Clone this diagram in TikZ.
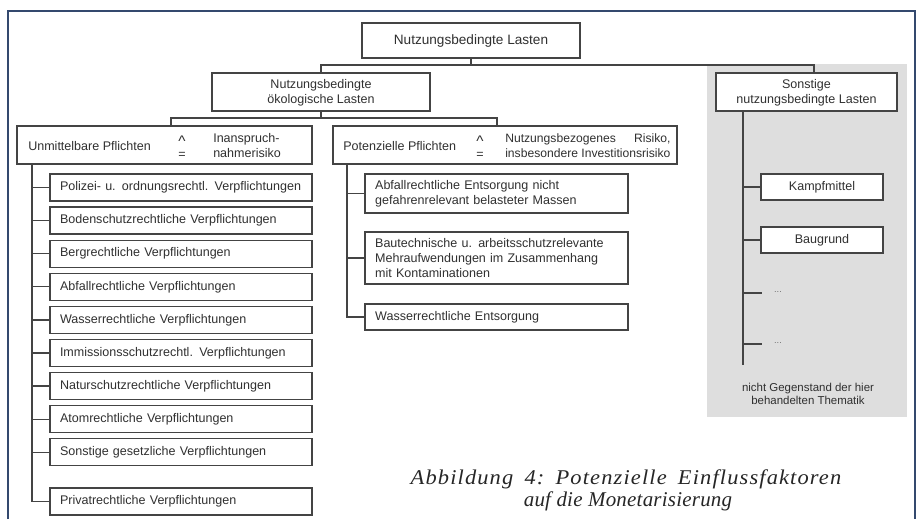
\documentclass[tikz,border=0pt]{standalone}
\usepackage{fontspec}
\setmainfont{Liberation Sans}
\newfontfamily\capfontA[LetterSpace=5]{Liberation Serif}
\newfontfamily\capfontB[LetterSpace=1]{Liberation Serif}
\definecolor{framec}{HTML}{34496E}
\definecolor{linec}{HTML}{444444}
\definecolor{textc}{HTML}{303030}
\definecolor{greyc}{HTML}{DEDEDE}
\newlength\potw
\settowidth\potw{\fontsize{9.1}{11.2}\selectfont insbesondere Investitionsrisiko}
\tikzset{
  bx/.style={draw=linec, line width=0.95pt, fill=white, text=textc,
    font=\fontsize{9.4}{11.2}\selectfont, inner sep=0pt},
  wh/.style 2 args={minimum width=#1*0.75pt, minimum height=#2*0.75pt},
  ln/.style={draw=linec, line width=0.95pt},
  tx/.style={text=textc, font=\fontsize{9.4}{11.2}\selectfont, inner sep=0pt},
  eq/.style={text=textc, font=\fontsize{9.4}{9}\selectfont, inner sep=0pt, align=center},
  captx/.style={text=black!85, inner sep=0pt, anchor=base},
}
\begin{document}
\begin{tikzpicture}[x=0.75pt,y=-0.75pt]
\useasboundingbox (0,0) rectangle (921,519);
% frame
\draw[framec, line width=1.1pt] (8,519) -- (8,11) -- (915,11) -- (915,519);
% grey region
\fill[greyc] (707,64) rectangle (907,417);

% top level
\node[bx, wh={218}{35}, font=\fontsize{10.2}{12}\selectfont] (top) at (471,40.5) {Nutzungsbedingte Lasten};
\node[bx, wh={218}{38}, align=center] (oeko) at (321,92) {\strut Nutzungsbedingte\\ökologische Lasten};
\node[bx, wh={181}{38}, align=center] (sonst) at (806.5,92) {\strut Sonstige\\nutzungsbedingte Lasten};

% second level
\node[bx, wh={295}{38}] (unm) at (164.5,145) {};
\node[tx, anchor=west] (unmA) at (28,146) {Unmittelbare Pflichten};
\node[eq] (unmB) at (182,147) {{\fontsize{11.5}{9}\selectfont\textasciicircum}\\=};
\node[tx, anchor=west, align=left] (unmC) at (213,145.5) {Inanspruch-\\nahmerisiko};

\node[bx, wh={344}{38}] (pot) at (505,145) {};
\node[tx, anchor=west] (potA) at (343,146) {Potenzielle Pflichten};
\node[eq] (potB) at (480,147) {{\fontsize{11.5}{9}\selectfont\textasciicircum}\\=};
\node[tx, anchor=west, align=left, font=\fontsize{9.1}{11.2}\selectfont] (potC) at (505,145.5) {\hbox to \potw{Nutzungsbezogenes\hfill Risiko,}\\insbesondere Investitionsrisiko};

% left children
\foreach \n/\y/\t in {c1/187.5/{Polizei- u. ordnungsrechtl. Verpflichtungen},
  c2/220.6/{Bodenschutzrechtliche Verpflichtungen},
  c3/253.7/{Bergrechtliche Verpflichtungen},
  c4/286.8/{Abfallrechtliche Verpflichtungen},
  c5/319.9/{Wasserrechtliche Verpflichtungen},
  c6/353/{Immissionsschutzrechtl. Verpflichtungen},
  c7/386.1/{Naturschutzrechtliche Verpflichtungen},
  c8/419.2/{Atomrechtliche Verpflichtungen},
  c9/452.3/{Sonstige gesetzliche Verpflichtungen},
  c10/501.5/{Privatrechtliche Verpflichtungen}}
  {\node[bx, wh={262}{27}, align=left, text width=181.5pt] (\n) at (181,\y) {\t};}

% right children
\node[bx, wh={263}{39}, align=left, text width=182pt] (r1) at (496.5,193.5) {Abfallrechtliche Entsorgung nicht\\gefahrenrelevant belasteter Massen};
\node[bx, wh={263}{52}, align=left, text width=182pt] (r2) at (496.5,258) {Bautechnische u. arbeitsschutzrelevante\\Mehraufwendungen im Zusammenhang\\mit Kontaminationen};
\node[bx, wh={263}{26}, align=left, text width=182pt] (r3) at (496.5,317) {Wasserrechtliche Entsorgung};

% sonstige children
\node[bx, wh={122}{26}] (k1) at (822,187) {Kampfmittel};
\node[bx, wh={122}{26}] (k2) at (822,240) {Baugrund};
\node[text=black!55, font=\fontsize{7}{7}\selectfont, inner sep=0pt] (d1) at (778,292) {...};
\node[text=black!55, font=\fontsize{7}{7}\selectfont, inner sep=0pt] (d2) at (778,343) {...};
\node[tx, font=\fontsize{8.6}{9.8}\selectfont, align=center] (note) at (808,394) {nicht Gegenstand der hier\\behandelten Thematik};

% connectors top
\coordinate (j1) at (471,65);
\coordinate (sn) at (814,73);
\draw[ln] (top.south) -- (j1);
\draw[ln] (oeko.north) |- (sn |- j1) -- (sn);
\coordinate (j2) at (321,118);
\coordinate (un) at (171,126);
\coordinate (pn) at (497,126);
\draw[ln] (oeko.south) -- (j2);
\draw[ln] (un) |- (j2) -| (pn);

% left tree
\coordinate (ut) at (32,164);
\draw[ln] (ut) |- (c10.west);
\foreach \n in {c1,c2,c3,c4,c5,c6,c7,c8,c9} {\draw[ln] (ut |- \n.west) -- (\n.west);}

% right tree
\coordinate (pt) at (347,164);
\draw[ln] (pt) |- (r3.west);
\foreach \n in {r1,r2} {\draw[ln] (pt |- \n.west) -- (\n.west);}

% sonstige tree
\coordinate (st) at (743,111);
\coordinate (se) at (743,365);
\coordinate (e1) at (762,293);
\coordinate (e2) at (762,344);
\draw[ln] (st) -- (se);
\draw[ln] (st |- k1.west) -- (k1.west);
\draw[ln] (st |- k2.west) -- (k2.west);
\draw[ln] (st |- e1) -- (e1);
\draw[ln] (st |- e2) -- (e2);

% caption
\node[captx, font=\capfontA\itshape\fontsize{15.75}{16}\selectfont] (cap1) at (626,484) {\scalebox{1.07}[1]{Abbildung\hspace{0.5em}4:\hspace{0.5em}Potenzielle\hspace{0.5em}Einflussfaktoren}};
\node[captx, font=\capfontB\itshape\fontsize{15.75}{16}\selectfont] (cap2) at (628,506) {auf die Monetarisierung};
\end{tikzpicture}
\end{document}
